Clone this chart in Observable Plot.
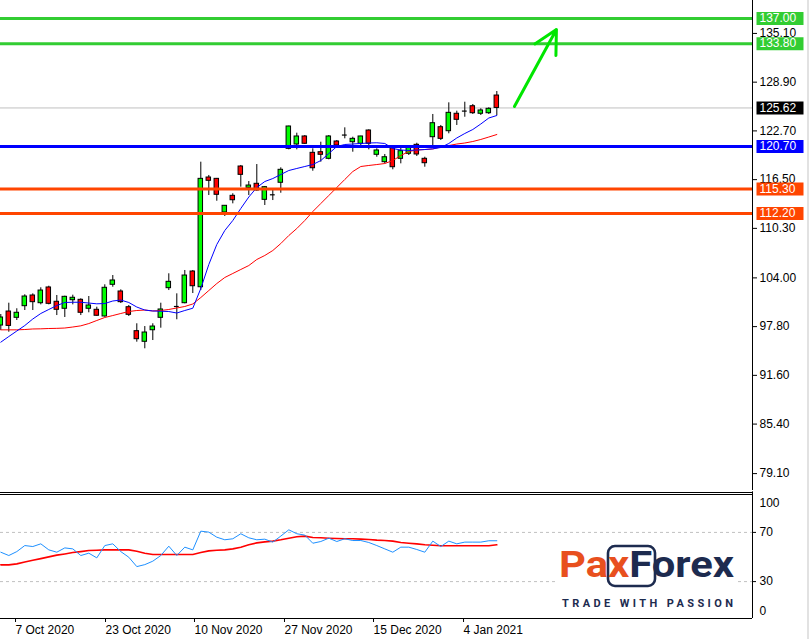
<!DOCTYPE html>
<html><head><meta charset="utf-8">
<script src="https://cdn.jsdelivr.net/npm/d3@7"></script>
<script src="https://cdn.jsdelivr.net/npm/@observablehq/plot@0.6"></script>
<style>
html,body{margin:0;padding:0;background:#fff;overflow:hidden;width:810px;height:639px;}
#wrap{position:relative;width:810px;height:639px;overflow:hidden;}
#wrap svg{display:block;max-width:none;}
#logo{position:absolute;left:0;top:0;}
</style></head>
<body><div id="wrap"><div id="main"></div><div id="lower"></div>
<svg id="logo" width="810" height="639">
  <rect x="807" y="0" width="2" height="639" fill="#e2e2e2"/>
  <rect x="556" y="543" width="181" height="68" fill="#fff"/>
  <rect x="608" y="546" width="47" height="40" rx="7" fill="none" stroke="#1d2b4f" stroke-width="2.6"/>
  <text x="559" y="577" font-family="Roboto, sans-serif" font-weight="700" font-size="36" textLength="175" lengthAdjust="spacingAndGlyphs"><tspan fill="#e8501e">Pax</tspan><tspan fill="#1d2b4f">Forex</tspan></text>
  <text x="562" y="607" font-family="Roboto, sans-serif" font-weight="700" font-size="11" fill="#1d2b4f" textLength="171" lengthAdjust="spacing">TRADE WITH PASSION</text>
</svg>
</div>
<script>
// ---- data (daily candles, index 0..62) ----
const open  = [97.94,99.72,98.92,100.40,101.76,100.78,102.78,100.96,100.07,101.16,101.21,100.07,99.94,99.09,103.12,102.27,100.27,97.22,95.87,97.34,98.92,102.69,100.36,100.78,104.81,102.81,116.77,116.60,112.32,114.44,118.17,115.46,115.97,113.93,114.57,116.10,120.42,120.97,121.99,119.91,119.99,119.15,121.35,122.17,121.26,121.06,122.75,119.66,118.72,120.50,119.15,119.79,120.93,119.15,121.90,123.17,122.66,124.88,125.22,125.84,124.88,124.95,127.20];
const high  = [99.34,100.78,100.07,101.85,101.97,102.74,102.94,101.76,101.67,101.80,101.34,101.63,100.27,103.12,104.30,102.48,100.49,98.16,97.81,98.16,100.78,104.52,101.97,104.94,104.94,118.72,117.03,116.65,113.21,114.70,118.30,116.26,118.42,115.63,115.12,118.00,123.30,122.41,122.11,120.42,121.26,122.11,121.48,123.09,121.90,122.02,122.84,120.42,119.70,120.55,120.63,120.63,121.13,119.35,124.79,123.39,126.27,125.21,126.35,126.06,125.51,125.64,127.71];
const low   = [97.31,97.09,98.58,99.85,99.85,100.57,100.57,99.21,98.96,100.57,99.21,99.56,99.12,99.00,102.81,100.74,99.09,95.82,94.98,96.03,97.60,102.39,98.67,100.70,102.01,102.39,114.48,113.75,111.81,113.42,115.54,114.48,115.03,113.21,113.84,114.77,120.29,120.29,120.97,117.57,118.72,119.02,120.63,121.69,119.99,120.63,120.29,119.35,118.51,117.75,118.51,119.57,119.44,118.08,120.84,121.48,122.33,123.39,124.44,124.79,124.66,124.79,124.66];
const close = [98.96,97.89,99.56,101.63,100.91,102.39,100.70,99.94,101.59,101.47,99.56,100.49,99.18,102.74,103.67,100.91,99.30,96.20,97.05,97.81,99.98,103.50,100.36,104.30,102.94,116.60,116.35,114.57,113.17,113.88,117.11,115.75,115.12,115.54,114.57,117.75,123.26,121.99,121.06,117.95,119.66,121.99,120.84,122.17,121.69,121.99,121.06,120.21,119.35,118.08,120.12,120.55,119.70,118.59,123.68,121.69,125.00,124.11,125.22,124.95,125.30,125.51,125.62];
const maFast = [95.82,96.54,97.24,97.94,98.77,99.47,99.98,100.48,100.87,100.90,100.90,100.80,100.70,100.74,101.06,101.18,100.87,100.29,99.91,99.79,99.76,99.72,99.53,99.85,100.14,102.65,105.70,108.25,110.03,111.30,112.83,114.29,115.50,116.26,116.64,117.15,117.66,117.92,118.17,118.42,118.93,119.82,120.71,120.97,121.03,121.10,121.16,121.19,121.10,120.46,120.27,120.21,120.27,120.33,120.42,120.59,121.10,121.80,122.37,122.88,123.58,124.34,124.66];
const maSlow = [97.39,97.39,97.39,97.43,97.50,97.52,97.56,97.58,97.62,97.75,97.90,98.19,98.58,98.96,99.21,99.47,99.72,99.85,99.91,99.79,99.85,99.98,100.17,100.36,100.68,101.50,102.39,103.28,104.05,104.56,105.07,105.57,106.34,106.85,107.48,108.37,109.39,110.28,111.30,112.44,113.46,114.48,115.50,116.52,117.53,118.17,118.30,118.42,118.55,118.93,119.57,120.08,120.27,120.33,120.40,120.65,120.84,121.03,121.16,121.35,121.61,121.92,122.24];
const oscMain = [53.9,51.2,54.4,59.3,58.5,60.7,55.8,53.9,57.4,56.6,51.2,53.1,49.3,59.3,60.7,54.4,49.8,42.2,43.8,46.6,51.2,58.8,51.2,58.0,55.8,71.0,70.2,66.1,64.0,64.8,68.9,65.6,64.0,64.5,62.1,67.0,72.1,68.9,67.8,61.2,62.6,65.3,62.6,64.8,63.4,63.4,61.8,59.3,56.6,53.9,58.0,58.0,56.1,53.9,62.9,58.5,62.9,60.7,62.1,62.1,62.1,63.2,63.2];
const oscSignal = [43.6,43.6,44.4,46.0,47.4,48.7,50.1,51.5,52.5,53.6,54.4,55.3,55.5,55.8,55.8,55.8,55.8,54.7,53.1,52.0,52.0,52.0,52.0,52.0,52.0,53.6,55.0,55.5,55.8,56.6,58.0,59.9,61.5,62.3,62.9,64.0,65.3,66.4,67.0,65.9,65.6,65.3,65.1,64.8,64.8,64.5,64.2,63.7,63.4,62.9,61.8,61.2,60.7,59.9,59.6,59.1,59.1,59.1,59.1,59.1,59.1,59.1,59.9];

const priceTicks = [135.10,128.90,122.70,116.50,110.30,104.00,97.80,91.60,85.40,79.10];
const targetLevels = [137.00,133.80];
const pivotLevels = [120.70];
const supportLevels = [115.30,112.20];
const oscLevels = [70,30];
const dateLabels = ["7 Oct 2020","23 Oct 2020","10 Nov 2020","27 Nov 2020","15 Dec 2020","4 Jan 2021"];
const dateTickPos = [1.84,13.09,24.21,35.46,46.59,57.84];
const forecastArrow = [{i1:64.2, p1:125.8, i2:69.45, p2:135.6}];

// ---- build ----
const N = close.length;
const bars = d3.range(N).map(i => ({i, o:open[i], h:high[i], l:low[i], c:close[i], fast:maFast[i], slow:maSlow[i], osc:oscMain[i], sig:oscSignal[i]}));
const bodies = bars.filter(d => d.o !== d.c);
const dojis = bars.filter(d => d.o === d.c);
const lastPrice = close[N-1];
const xMin = -0.0375, xMax = 93.96;
const FONT = "'Liberation Sans', Arial, sans-serif";
const boxSymbol = {draw(ctx){ ctx.rect(-23.5, -6.5, 47, 13); }};

function levelBoxes(vals, color){
  return [
    Plot.dot(vals, {y: d=>d, frameAnchor:"right", dx:27.5, symbol: boxSymbol, fill: color, stroke: "none"}),
    Plot.text(vals, {y: d=>d, frameAnchor:"right", dx:7, textAnchor:"start", fill:"#fff", text: d=>d.toFixed(2)})
  ];
}

const main = Plot.plot({
  width:810, height:491, marginLeft:0, marginRight:58, marginTop:0, marginBottom:1,
  x:{domain:[xMin,xMax], axis:null, label:null},
  y:{domain:[76.95,139.29], axis:null, label:null},
  color:{type:"identity"},
  style:{fontFamily:FONT, fontSize:"12px", color:"#000", background:"transparent", overflow:"visible"},
  marks:[
    Plot.ruleY([lastPrice], {stroke:"#c0c0c0"}),
    Plot.ruleX(bars, {x:"i", y1:"l", y2:"h", stroke:"#000"}),
    Plot.rect(bodies, {x1:d=>d.i-0.28, x2:d=>d.i+0.28, y1:"o", y2:"c", fill:d=>d.c>d.o?"#00ff00":"#ff0000", stroke:"#000", strokeWidth:1}),
    Plot.ruleY(dojis, {y:"o", x1:d=>d.i-0.3, x2:d=>d.i+0.3, stroke:"#000", strokeWidth:1.2}),
    Plot.line(bars, {x:"i", y:"slow", stroke:"#ff0000", strokeWidth:1}),
    Plot.line(bars, {x:"i", y:"fast", stroke:"#0000ff", strokeWidth:1}),
    Plot.ruleY(targetLevels, {stroke:"#32cd32", strokeWidth:3}),
    Plot.ruleY(pivotLevels, {stroke:"#0000ff", strokeWidth:3}),
    Plot.ruleY(supportLevels, {stroke:"#ff4500", strokeWidth:3}),
    Plot.arrow(forecastArrow, {x1:"i1", y1:"p1", x2:"i2", y2:"p2", stroke:"#00e600", strokeWidth:3, headLength:13, headAngle:55}),
    Plot.ruleX([xMax], {stroke:"#000"}),
    Plot.axisY(priceTicks, {anchor:"right", label:null, tickSize:4, tickPadding:3, tickFormat:d=>d.toFixed(2), fill:"#000"}),
    ...levelBoxes(targetLevels, "#32cd32"),
    ...levelBoxes(pivotLevels, "#0000ff"),
    ...levelBoxes(supportLevels, "#ff4500"),
    ...levelBoxes([lastPrice], "#000000")
  ]
});

const lower = Plot.plot({
  width:810, height:148, marginLeft:0, marginRight:58, marginTop:4, marginBottom:21,
  x:{domain:[xMin,xMax], axis:null, label:null},
  y:{domain:[0,100], axis:null, label:null},
  style:{fontFamily:FONT, fontSize:"12px", color:"#000", background:"transparent", overflow:"visible"},
  marks:[
    Plot.ruleY(oscLevels, {stroke:"#c0c0c0", strokeDasharray:"3,3"}),
    Plot.line(bars, {x:"i", y:"sig", stroke:"#ff0000", strokeWidth:1.6}),
    Plot.line(bars, {x:"i", y:"osc", stroke:"#1e90ff", strokeWidth:1}),
    Plot.ruleY([100], {dy:-1, stroke:"#000"}),
    Plot.ruleY([100], {dy:-3, stroke:"#000"}),
    Plot.ruleY([0], {stroke:"#000"}),
    Plot.ruleX([xMax], {y1:0, y2:103, stroke:"#000"}),
    Plot.axisY(oscLevels, {anchor:"right", label:null, tickSize:3, tickPadding:4, fill:"#000"}),
    Plot.text([100], {y:d=>d, frameAnchor:"right", dx:7, dy:8, textAnchor:"start", text:d=>String(d), fill:"#000"}),
    Plot.text([0], {y:d=>d, frameAnchor:"right", dx:7, dy:-7.5, textAnchor:"start", text:d=>String(d), fill:"#000"}),
    Plot.axisX(dateTickPos, {anchor:"bottom", label:null, tickSize:4, tickPadding:3, textAnchor:"start", dx:0, fill:"#000", tickFormat:d=>dateLabels[dateTickPos.indexOf(d)]})
  ]
});

document.getElementById("main").appendChild(main);
document.getElementById("lower").appendChild(lower);
</script>
</body></html>
